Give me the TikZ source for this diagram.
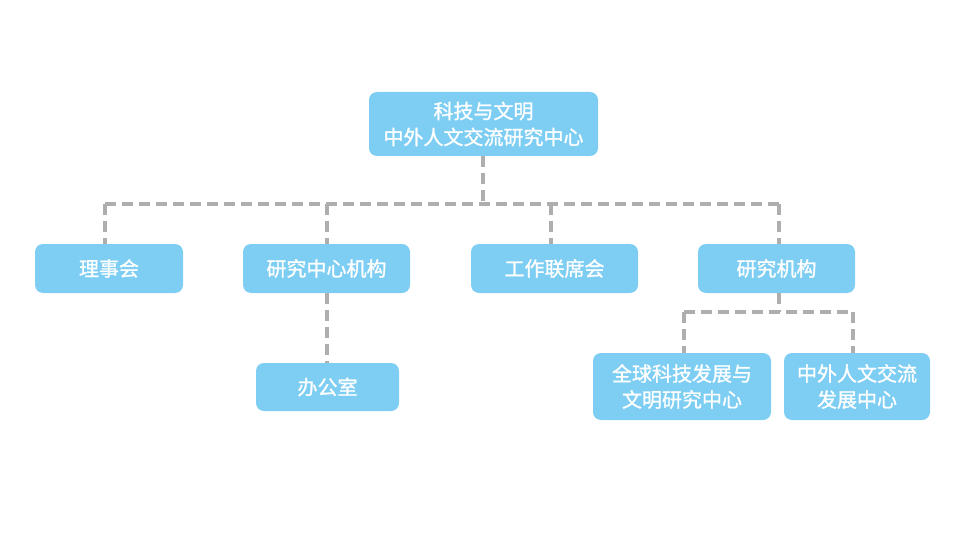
\documentclass[tikz,border=0pt]{standalone}
\usepackage{fontspec}
\setmainfont{Noto Sans CJK SC}[FakeBold=1.2]
\begin{document}
\begin{tikzpicture}[x=1pt,y=-1pt,
  box/.style={fill=boxblue,rounded corners=8pt,text=white,font=\fontsize{20}{26}\selectfont\addfontfeature{FakeBold=1.2},align=center,inner sep=0pt},
  conn/.style={draw=linegray,line width=3.6pt,dash pattern=on 11pt off 6pt}]
\definecolor{boxblue}{HTML}{7ECEF4}
\definecolor{linegray}{HTML}{AEAEAE}
\useasboundingbox (0,0) rectangle (960,540);
\node[box,minimum width=229pt,minimum height=64pt] (top) at (483.5,124) {科技与文明\\中外人文交流研究中心};
\node[box,minimum width=148pt,minimum height=49pt] (lsh) at (109,268.5) {理事会};
\node[box,minimum width=167pt,minimum height=49pt] (yjzx) at (326.5,268.5) {研究中心机构};
\node[box,minimum width=167pt,minimum height=49pt] (gzlx) at (554.5,268.5) {工作联席会};
\node[box,minimum width=157pt,minimum height=49pt] (yjjg) at (776.5,268.5) {研究机构};
\node[box,minimum width=143pt,minimum height=48pt] (bgs) at (327.5,387) {办公室};
\node[box,minimum width=178pt,minimum height=67pt] (qq) at (682,386.5) {全球科技发展与\\文明研究中心};
\node[box,minimum width=146pt,minimum height=67pt] (zw) at (857,386.5) {中外人文交流\\发展中心};
\coordinate (h1) at (483,204);
\draw[conn] (top.south -| h1) -- (h1);
\draw[conn] (105,204) coordinate (a1) -- (779,204) coordinate (a4);
\draw[conn] (a1) -- (a1 |- lsh.north);
\draw[conn] (327,204) coordinate (a2) -- (a2 |- yjzx.north);
\draw[conn] (551,204) coordinate (a3) -- (a3 |- gzlx.north);
\draw[conn] (a4) -- (a4 |- yjjg.north);
\draw[conn] (yjzx.south -| a2) -- (a2 |- bgs.north);
\coordinate (b0) at (779,312);
\draw[conn] (yjjg.south -| b0) -- (b0);
\draw[conn] (684,312) coordinate (b1) -- (853,312) coordinate (b2);
\draw[conn] (b1) -- (b1 |- qq.north);
\draw[conn] (b2) -- (b2 |- zw.north);
\end{tikzpicture}
\end{document}
